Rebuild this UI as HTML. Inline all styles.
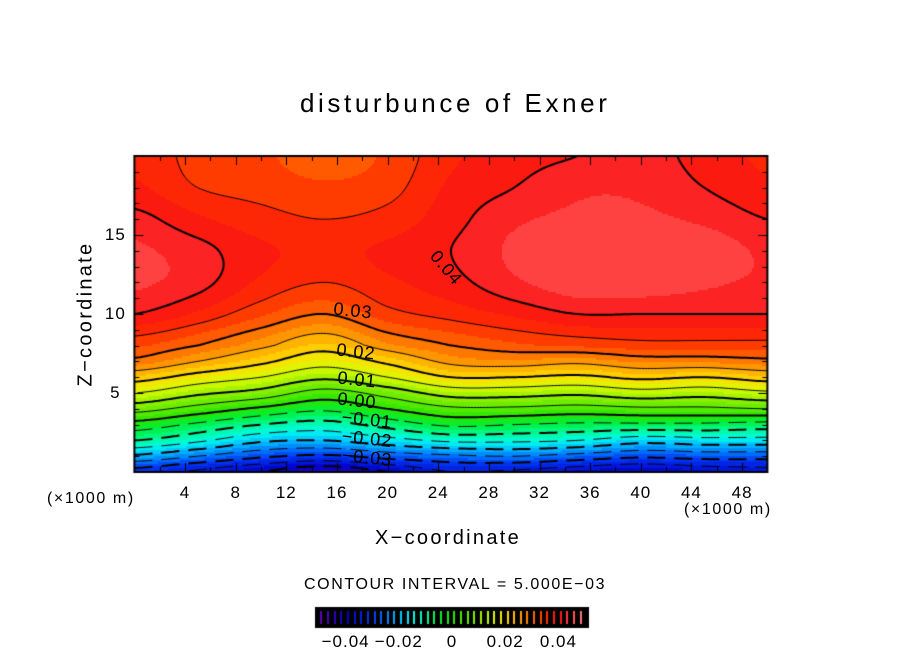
<!DOCTYPE html>
<html><head><meta charset="utf-8">
<style>
html,body{margin:0;padding:0;background:#fff;}
#root{position:relative;width:904px;height:654px;overflow:hidden;font-family:"Liberation Sans",sans-serif;color:#000;}
.t{position:absolute;white-space:nowrap;}
canvas{position:absolute;left:0;top:0;}
</style></head>
<body>
<div id="root">
<canvas id="cv" width="904" height="654"></canvas>
<div class="t" style="left:300px;top:88px;font-size:26px;letter-spacing:3.6px;">disturbunce of Exner</div>
<div class="t" style="left:86px;top:314px;font-size:20px;letter-spacing:2.3px;transform:translate(-50%,-50%) rotate(-90deg);">Z−coordinate</div>
<div class="t" style="left:375px;top:527px;font-size:20px;letter-spacing:2.3px;">X−coordinate</div>
<div class="t" style="left:47px;top:490px;font-size:16px;letter-spacing:1.6px;">(×1000 m)</div>
<div class="t" style="left:684px;top:501px;font-size:16px;letter-spacing:1.6px;">(×1000 m)</div>
<div class="t" style="left:304px;top:576px;font-size:16px;letter-spacing:1.6px;">CONTOUR INTERVAL = 5.000E−03</div>
<div id="labels"></div>
</div>
<script>
// data: field values (x 0.001) on grid
const xs=[0,5,10,15,20,25,30,35,40,45,50];
const zs=[0,1,2,3,4,5,6,7,8,10,12,14,16,18,20];
const col0 =[-32,-21,-10,-2,7,15,22,29,33,40,43,43,41,38,37];
const col5 =[-36,-25,-14,-6,3,11,18,25,30,37,41,41,38,35,34];
const col10=[-40,-29,-19,-10,-1,8,15,21,26,33,37,38,36,34,33];
const col15=[-44,-31,-20,-12,-4,3,11,17,22,30,35,37,35,33,31];
const col20=[-40,-28,-17,-8,0,7,15,21,27,34,37,38,36,34,33];
const col25=[-35,-26,-14,-4,4,12,20,26,30,36,39,40,39,38,37];
const col30=[-36,-25,-14,-5,4,12,20,27,32,38,42,43,42,40,39];
const col35=[-38,-27,-15,-6,3,11,19,26,33,40,44,44,43,42,40];
const col40=[-40,-29,-18,-6,4,13,21,28,34,40,44,44,43,42,41];
const col45=[-38,-28,-17,-6,4,12,20,28,34,40,43,44,42,40,39];
const col50=[-37,-28,-17,-7,5,14,22,29,34,40,42,42,40,38,37];
const cols=[col0,col5,col10,col15,col20,col25,col30,col35,col40,col45,col50];
const xTicks=[4,8,12,16,20,24,28,32,36,40,44,48];
const zTicks=[5,10,15];
const cbTicks=[-0.04,-0.02,0,0.02,0.04];
const cbTickLabels=["−0.04","−0.02","0","0.02","0.04"];

const PL=134.4,PR=767.4,PT=156,PB=472;
const X0=0,X1=50,Z0=0,Z1=20;
function sx(x){return PL+(x-X0)/(X1-X0)*(PR-PL);}
function sz(z){return PB-(z-Z0)/(Z1-Z0)*(PB-PT);}
function seg(a,v){for(let i=0;i<a.length-1;i++){if(v<=a[i+1]||i==a.length-2){return [i,Math.max(0,Math.min(1,(v-a[i])/(a[i+1]-a[i])))];}}}
function cr(p0,p1,p2,p3,t){return 0.5*((2*p1)+(-p0+p2)*t+(2*p0-5*p1+4*p2-p3)*t*t+(-p0+3*p1-3*p2+p3)*t*t*t);}
function colVal(i,z){const [j,f]=seg(zs,z);const c=cols[i];const n=c.length;
  return cr(c[Math.max(0,j-1)],c[j],c[j+1],c[Math.min(n-1,j+2)],f);}
function field(x,z){
  const [i,fx]=seg(xs,x);const n=cols.length;
  const v=cr(colVal(Math.max(0,i-1),z),colVal(i,z),colVal(i+1,z),colVal(Math.min(n-1,i+2),z),fx);
  return v/1000;
}
const stops=[[-0.05,[100,0,180]],[-0.04,[0,0,200]],[-0.03,[0,60,245]],[-0.02,[0,190,255]],[-0.015,[0,250,235]],[-0.01,[0,250,150]],[-0.005,[0,238,60]],[0,[40,230,0]],[0.01,[150,240,0]],[0.015,[215,250,0]],[0.02,[255,220,0]],[0.025,[255,165,0]],[0.03,[255,105,0]],[0.035,[255,45,0]],[0.04,[250,20,20]],[0.045,[255,80,80]],[0.05,[255,140,140]]];
function cmap(v){
  v=Math.max(-0.05,Math.min(0.05,v));
  for(let i=0;i<stops.length-1;i++){if(v<=stops[i+1][0]){const f=(v-stops[i][0])/(stops[i+1][0]-stops[i][0]);const a=stops[i][1],b=stops[i+1][1];return `rgb(${Math.round(a[0]+(b[0]-a[0])*f)},${Math.round(a[1]+(b[1]-a[1])*f)},${Math.round(a[2]+(b[2]-a[2])*f)})`;}}
  return 'rgb(255,140,140)';
}
const cv=document.getElementById('cv');const ctx=cv.getContext('2d');
const step=2;
for(let py=PT;py<PB;py+=step){for(let px=Math.floor(PL);px<PR;px+=step){
  const x=X0+(px+1-PL)/(PR-PL)*(X1-X0),z=Z0+(PB-py-1)/(PB-PT)*(Z1-Z0);
  let v=field(Math.min(50,Math.max(0,x)),Math.min(20,Math.max(0,z)));
  v=(Math.floor(v/0.0025)+0.5)*0.0025;
  ctx.fillStyle=cmap(v);ctx.fillRect(px,py,step,step);
}}
const G=3;const nx=Math.ceil((PR-PL)/G),nz=Math.ceil((PB-PT)/G);
const grid=[];
for(let j=0;j<=nz;j++){grid[j]=[];for(let i=0;i<=nx;i++){const px=Math.min(PR,PL+i*G),py=Math.min(PB,PT+j*G);grid[j][i]=field((px-PL)/(PR-PL)*50,(PB-py)/(PB-PT)*20);}}
ctx.save();ctx.beginPath();ctx.rect(PL,PT,PR-PL,PB-PT);ctx.clip();
for(let k=-8;k<=8;k++){
  const L=k*0.005;const major=(k%2===0);
  ctx.strokeStyle='#000';ctx.lineWidth=major?2:1;
  ctx.beginPath();
  for(let j=0;j<nz;j++)for(let i=0;i<nx;i++){
    const x0=Math.min(PR,PL+i*G),x1=Math.min(PR,PL+(i+1)*G),y0=Math.min(PB,PT+j*G),y1=Math.min(PB,PT+(j+1)*G);
    const a=grid[j][i],b=grid[j][i+1],c=grid[j+1][i+1],d=grid[j+1][i];
    const pts=[];
    if((a-L)*(b-L)<0)pts.push([x0+(L-a)/(b-a)*(x1-x0),y0]);
    if((b-L)*(c-L)<0)pts.push([x1,y0+(L-b)/(c-b)*(y1-y0)]);
    if((d-L)*(c-L)<0)pts.push([x0+(L-d)/(c-d)*(x1-x0),y1]);
    if((a-L)*(d-L)<0)pts.push([x0,y0+(L-a)/(d-a)*(y1-y0)]);
    if(pts.length>=2){
      if(L<0&&Math.floor(pts[0][0]/9)%3===2)continue;
      ctx.moveTo(pts[0][0],pts[0][1]);ctx.lineTo(pts[1][0],pts[1][1]);
      if(pts.length===4){ctx.moveTo(pts[2][0],pts[2][1]);ctx.lineTo(pts[3][0],pts[3][1]);}
    }
  }
  ctx.stroke();
}
ctx.restore();
ctx.strokeStyle='#000';ctx.lineWidth=2;ctx.strokeRect(PL,PT,PR-PL,PB-PT);
ctx.lineWidth=1;
for(let x=2;x<50;x+=2){const long=x%4===0;const X=Math.round(sx(x))+0.5;const l=long?9:5;
  ctx.beginPath();ctx.moveTo(X,PB);ctx.lineTo(X,PB-l);ctx.moveTo(X,PT);ctx.lineTo(X,PT+l);ctx.stroke();}
for(let z=1;z<20;z++){const long=z%5===0;const Y=Math.round(sz(z))+0.5;const l=long?9:5;
  ctx.beginPath();ctx.moveTo(PL,Y);ctx.lineTo(PL+l,Y);ctx.moveTo(PR,Y);ctx.lineTo(PR-l,Y);ctx.stroke();}
const CL=316,CR=588,CT=608,CB=627;
ctx.fillStyle='#000';ctx.fillRect(CL,CT,CR-CL,CB-CT);
for(let v=-0.0495;v<0.05;v+=0.0025){const X=CL+3+(v+0.05)/0.1*(CR-CL-6);ctx.fillStyle=cmap(v);ctx.fillRect(Math.round(X),CT+3,2,CB-CT-6);}
ctx.strokeStyle='#000';ctx.lineWidth=2;ctx.strokeRect(CL,CT,CR-CL,CB-CT);
const lab=document.getElementById('labels');
function addText(name,txt,x,y,size,extra){const d=document.createElement('div');d.className='t';


d.textContent=txt;d.style.left=x+'px';d.style.top=y+'px';d.style.fontSize=size+'px';d.style.letterSpacing='1px';d.style.transform='translate(-50%,-50%)'+(extra||'');lab.appendChild(d);return d;}
xTicks.forEach(t=>addText('x-tick-label',String(t),sx(t),493,17));
zTicks.forEach(t=>addText('y-tick-label',String(t),sx(0)-19,sz(t),17));
cbTicks.forEach((t,i)=>addText('colorbar-tick-label',cbTickLabels[i],CL+3+(t+0.05)/0.1*(CR-CL-6),642,17));
const cl=[["0.03",10.2],["0.02",7.6],["0.01",5.8],["0.00",4.5],["−0.01",3.3],["−0.02",2.1],["−0.03",0.9]];
const lx=[17.3,17.5,17.6,17.6,18.4,18.4,18.4];
cl.forEach((c,i)=>{addText('contour-label',c[0],sx(lx[i]),sz(c[1]),18,' rotate(6deg)');});
addText('contour-label','0.04',sx(24.6),sz(12.9),18,' rotate(50deg)');
</script>
</body></html>
